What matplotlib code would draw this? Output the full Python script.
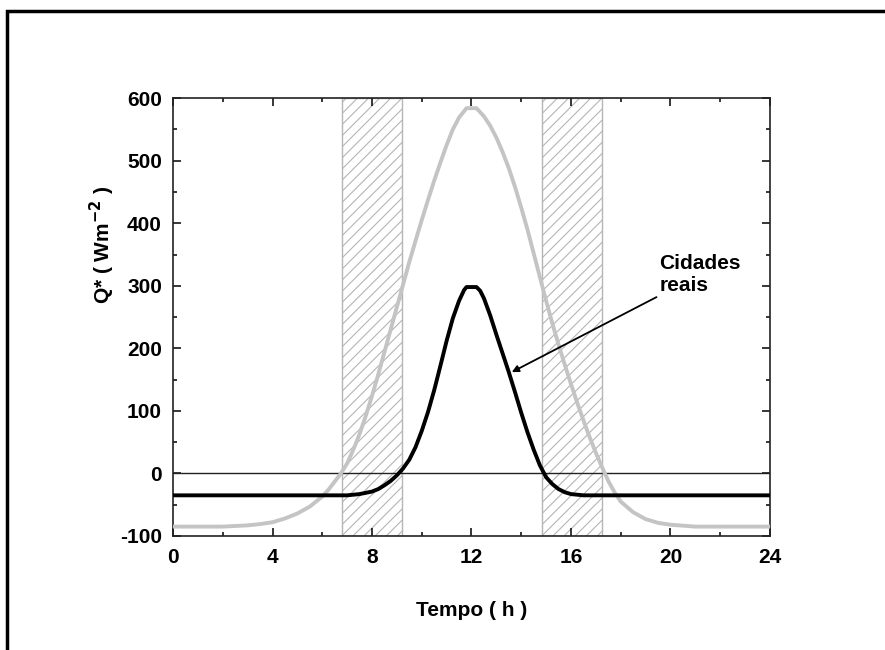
import matplotlib
matplotlib.use('Agg')
from matplotlib import pyplot as plt
from matplotlib.patches import Rectangle

plt.rcParams['font.family'] = ['Liberation Sans', 'DejaVu Sans']
plt.rcParams['font.weight'] = 'bold'
plt.rcParams['axes.unicode_minus'] = False
plt.rcParams['hatch.linewidth'] = 0.8
plt.rcParams['hatch.color'] = '#8a8a8a'

# grey curve
hours_gray = [0, 1, 2, 2.5, 3, 3.5, 4, 4.5, 5, 5.5, 6, 6.25, 6.5, 6.75, 7,
              7.25, 7.5, 7.75, 8, 8.25, 8.5, 8.75, 9, 9.25, 9.5, 9.75, 10,
              10.25, 10.5, 10.75, 11, 11.25, 11.5, 11.8, 12.2, 12.5, 12.75,
              13, 13.25, 13.5, 13.75, 14, 14.25, 14.5, 14.75, 15, 15.25,
              15.5, 15.75, 16, 16.25, 16.5, 16.75, 17, 17.25, 17.5, 17.75,
              18, 18.5, 19, 19.5, 20, 21, 22, 23, 24]
q_gray = [-85, -85, -85, -84, -83, -81, -78, -72, -64, -53, -37, -26, -13,
          0, 16, 38, 63, 92, 124, 158, 194, 230, 266, 302, 338, 372, 405,
          437, 468, 497, 525, 550, 569, 584, 584, 571, 556, 537, 514, 488,
          458, 425, 390, 352, 314, 276, 240, 206, 174, 143, 113, 85, 58,
          33, 10, -12, -30, -45, -62, -73, -79, -82, -85, -85, -85, -85]

# black curve: "Cidades reais"
hours_black = [0, 2, 4, 6, 7, 7.5, 8, 8.25, 8.5, 8.75, 9, 9.25, 9.5, 9.75,
               10, 10.25, 10.5, 10.75, 11, 11.25, 11.5, 11.7, 11.8, 12.2,
               12.35, 12.5, 12.75, 13, 13.25, 13.5, 13.75, 14, 14.25, 14.5,
               14.75, 15, 15.25, 15.5, 15.75, 16, 16.5, 17, 20, 24]
q_black = [-35, -35, -35, -35, -35, -33, -29, -25, -19, -12, -3, 8, 22, 42,
           68, 98, 133, 172, 212, 248, 276, 293, 298, 298, 292, 280, 253,
           222, 192, 162, 130, 97, 66, 38, 13, -6, -17, -25, -30, -33, -35,
           -35, -35, -35]

# hatched periods (h)
bands = [(6.8, 9.2), (14.85, 17.25)]

fig = plt.figure(figsize=(8.85, 6.5), dpi=100)
ax = fig.add_axes([0.1955, 0.1754, 0.6745, 0.6736])

for start, end in bands:
    ax.axvspan(start, end, facecolor='white', edgecolor='#b5b5b5',
               hatch='///', linewidth=1.0, zorder=1)

ax.axhline(0, color='#222222', linewidth=1.0, zorder=2)
ax.plot(hours_gray, q_gray, color='#c4c4c4', linewidth=2.8, zorder=3,
        solid_joinstyle='round')
ax.plot(hours_black, q_black, color='black', linewidth=2.8, zorder=4,
        solid_joinstyle='round')

ax.annotate('Cidades\nreais', xy=(13.62, 162), xytext=(19.55, 318),
            fontsize=15, fontweight='bold', ha='left', va='center',
            linespacing=1.2,
            arrowprops=dict(arrowstyle='-|>', color='black', lw=1.3,
                            mutation_scale=10, shrinkA=0, shrinkB=0))

ax.set_xlim(0, 24)
ax.set_ylim(-100, 600)
ax.set_xticks(range(0, 25, 4))
ax.set_xticks(range(2, 24, 4), minor=True)
ax.set_yticks(range(-100, 601, 100))
ax.set_yticks(range(-50, 600, 100), minor=True)
ax.tick_params(which='both', direction='in', top=True, right=True,
               width=1.1, labelsize=15)
ax.tick_params(which='major', length=6)
ax.tick_params(axis='y', which='major', pad=8)
ax.tick_params(axis='x', which='major', pad=9)
ax.tick_params(which='minor', length=3)
for lbl in ax.get_xticklabels() + ax.get_yticklabels():
    lbl.set_fontweight('bold')
for sp in ax.spines.values():
    sp.set_linewidth(1.2)
    sp.set_color('#222222')

ax.set_xlabel('Tempo ( h )', fontsize=15, fontweight='bold')
ax.set_ylabel('Q* ( Wm$^{\\mathbf{-2}}$ )', fontsize=15, fontweight='bold')
ax.xaxis.set_label_coords(0.5, -0.148)
ax.yaxis.set_label_coords(-0.094, 0.664)

# outer frame of the original figure
fig.patches.append(Rectangle((7 / 885, -0.2), 1.5, 1.2 - 11 / 650,
                             transform=fig.transFigure, fill=False,
                             edgecolor='black', linewidth=2.5))

fig.savefig('out.png', dpi=100)
